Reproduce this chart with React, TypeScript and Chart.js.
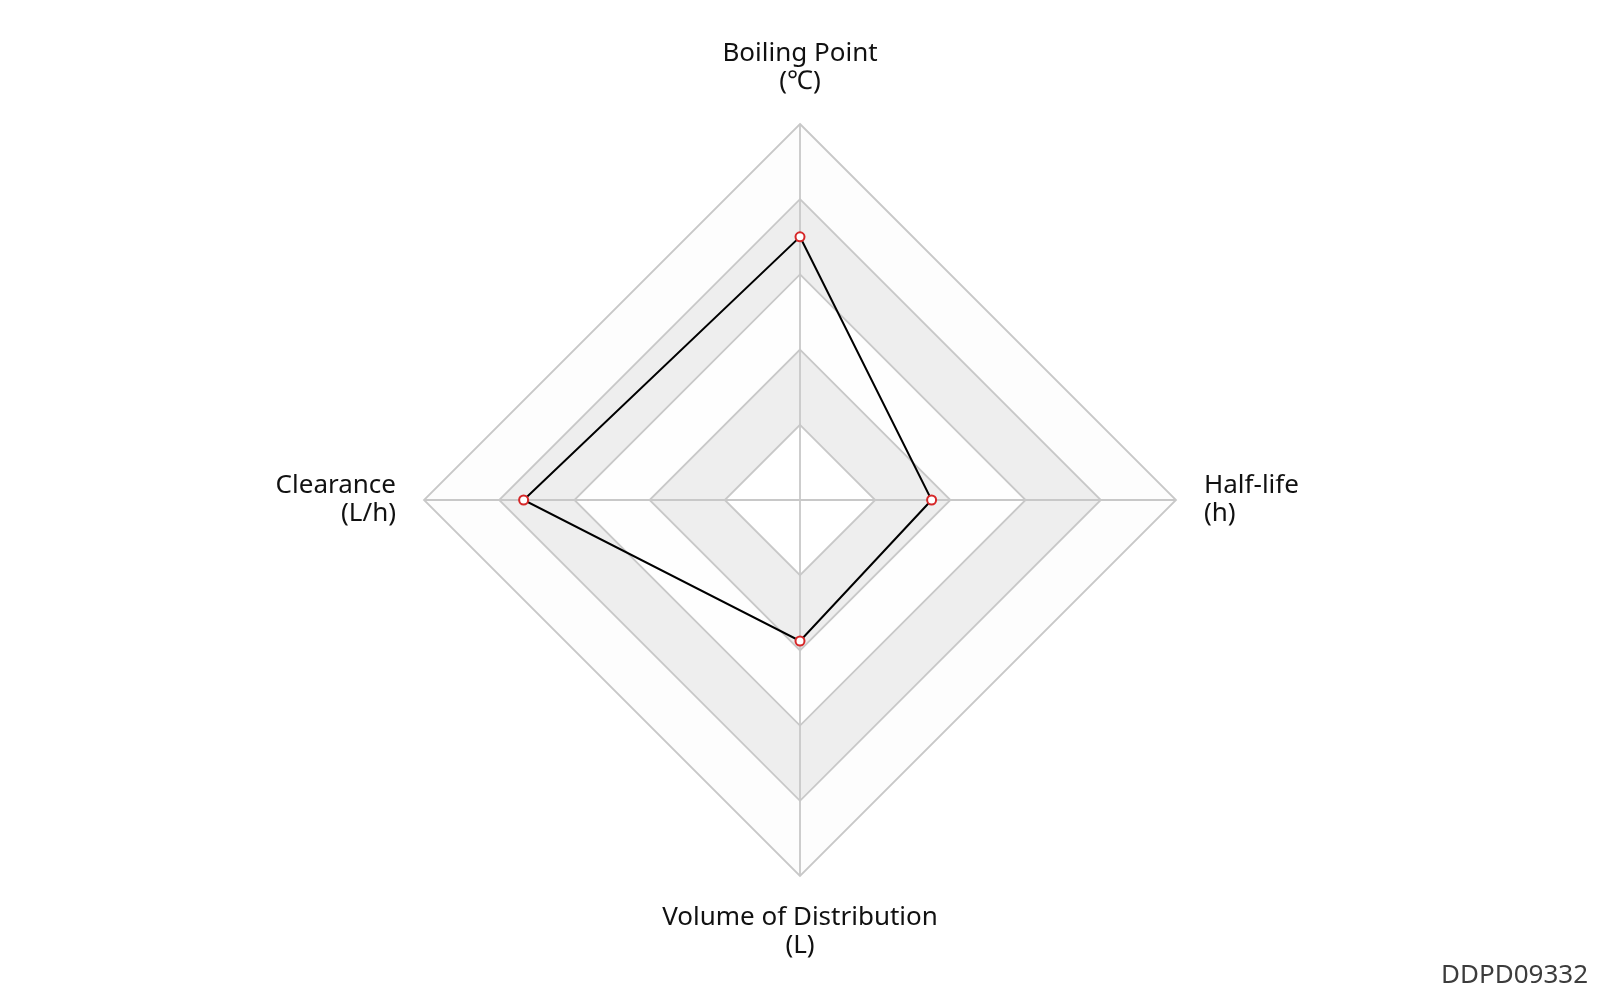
import React, { useEffect, useRef } from "react";
import { Chart, registerables } from "chart.js";

Chart.register(...registerables);

// Axis names and their units (second label line)
const axisNames = ["Boiling Point", "Half-life", "Volume of Distribution", "Clearance"];
const axisUnits = ["(℃)", "(h)", "(L)", "(L/h)"];

// Normalised scores on a 0–100 scale
const scores = [70, 35, 37.5, 73.5];

// Ring levels and the fill of the band that ends at each ring
const ringLevels = [100, 80, 60, 40, 20];
const ringFills = ["#fdfdfd", "#eeeeee", "#fefefe", "#eeeeee", "#ffffff"];

const compoundId = "DDPD09332";

// Fills the alternating polygon bands beneath the grid lines
const bandPlugin = {
  id: "radarBands",
  beforeDraw(chart: any) {
    const scale = chart.scales.r;
    if (!scale) return;
    const ctx = chart.ctx;
    const n = chart.data.labels.length;
    ctx.save();
    ringLevels.forEach((level, k) => {
      const dist = scale.getDistanceFromCenterForValue(level);
      ctx.beginPath();
      for (let i = 0; i < n; i++) {
        const p = scale.getPointPosition(i, dist);
        if (i === 0) ctx.moveTo(p.x, p.y);
        else ctx.lineTo(p.x, p.y);
      }
      ctx.closePath();
      ctx.fillStyle = ringFills[k];
      ctx.fill();
    });
    ctx.restore();
  },
};

function RadarProfile() {
  const canvasRef = useRef<HTMLCanvasElement | null>(null);

  useEffect(() => {
    const canvas = canvasRef.current;
    if (!canvas) return;
    const chart = new Chart(canvas, {
      type: "radar",
      data: {
        labels: axisNames.map((name, i) => [name, axisUnits[i]]),
        datasets: [
          {
            data: scores,
            borderColor: "#000000",
            borderWidth: 2,
            backgroundColor: "rgba(0,0,0,0)",
            fill: false,
            pointRadius: 4.5,
            pointBorderWidth: 2,
            pointBorderColor: "#d62728",
            pointBackgroundColor: "#ffffff",
          },
        ],
      },
      options: {
        responsive: false,
        animation: false,
        layout: { padding: 40 },
        plugins: {
          legend: { display: false },
          tooltip: { enabled: false },
        },
        scales: {
          r: {
            min: 0,
            max: 100,
            ticks: { display: false, stepSize: 20 },
            grid: { color: "#c8c8c8", lineWidth: 1.8 },
            angleLines: { color: "#c8c8c8", lineWidth: 1.8 },
            pointLabels: {
              padding: 28,
              color: "#111111",
              font: { family: "'Noto Sans', sans-serif", size: 26, lineHeight: "28px" },
            },
          },
        },
      },
      plugins: [bandPlugin],
    });
    return () => chart.destroy();
  }, []);

  return (
    <div style={{ position: "fixed", left: 0, top: 0, width: 1600, height: 1000, background: "#ffffff" }}>
      <canvas ref={canvasRef} width={1600} height={1000} style={{ display: "block" }} />
      <div
        style={{
          position: "absolute",
          right: 12,
          top: 960,
          fontFamily: "'Noto Sans', sans-serif",
          fontSize: 26,
          lineHeight: 1,
          color: "#3c3c3c",
        }}
      >
        {compoundId}
      </div>
    </div>
  );
}

export default function App() {
  return <RadarProfile />;
}
